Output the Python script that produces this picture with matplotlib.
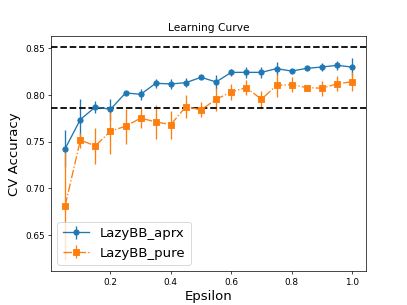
import numpy as np
import matplotlib
matplotlib.use("Agg")
import matplotlib.pyplot as plt

# epsilon values
eps = [0.05, 0.1, 0.15, 0.2, 0.25, 0.3, 0.35, 0.4, 0.45, 0.5,
       0.55, 0.6, 0.65, 0.7, 0.75, 0.8, 0.85, 0.9, 0.95, 1.0]

# LazyBB_aprx mean / std
aprx_mean = [0.7425, 0.7735, 0.787, 0.7845, 0.802, 0.8005, 0.8123, 0.8116, 0.813, 0.8187,
             0.8137, 0.824, 0.824, 0.824, 0.828, 0.8254, 0.8283, 0.8297, 0.8315, 0.8297]
aprx_std = [0.020, 0.022, 0.006, 0.011, 0.002, 0.006, 0.005, 0.005, 0.005, 0.002,
            0.007, 0.004, 0.006, 0.006, 0.007, 0.002, 0.002, 0.004, 0.005, 0.0096]

# LazyBB_pure mean / std
pure_mean = [0.6815, 0.7514, 0.7454, 0.761, 0.7664, 0.775, 0.771, 0.7681, 0.7874, 0.7838,
             0.7952, 0.803, 0.8077, 0.7952, 0.810, 0.8109, 0.8077, 0.807, 0.8116, 0.814]
pure_std = [0.0587, 0.008, 0.019, 0.024, 0.0187, 0.011, 0.018, 0.015, 0.0125, 0.008,
            0.0125, 0.009, 0.008, 0.009, 0.012, 0.008, 0.002, 0.008, 0.008, 0.010]

# reference lines
upper_ref = 0.851
lower_ref = 0.7855

fig, ax = plt.subplots(figsize=(6.4, 4.8), dpi=407 / 6.4)

ax.errorbar(eps, aprx_mean, yerr=aprx_std, fmt="-o", label="LazyBB_aprx")
ax.errorbar(eps, pure_mean, yerr=pure_std, fmt="-.s", label="LazyBB_pure")
ax.axhline(upper_ref, color="k", linestyle="--", linewidth=2)
ax.axhline(lower_ref, color="k", linestyle="--", linewidth=2)

ax.set_ylim(0.611, 0.8625)
ax.set_title("Learning Curve")
ax.set_xlabel("Epsilon", fontsize=15)
ax.set_ylabel("CV Accuracy", fontsize=15)
ax.legend(loc="lower left", fontsize=15)

fig.savefig("out.png")
